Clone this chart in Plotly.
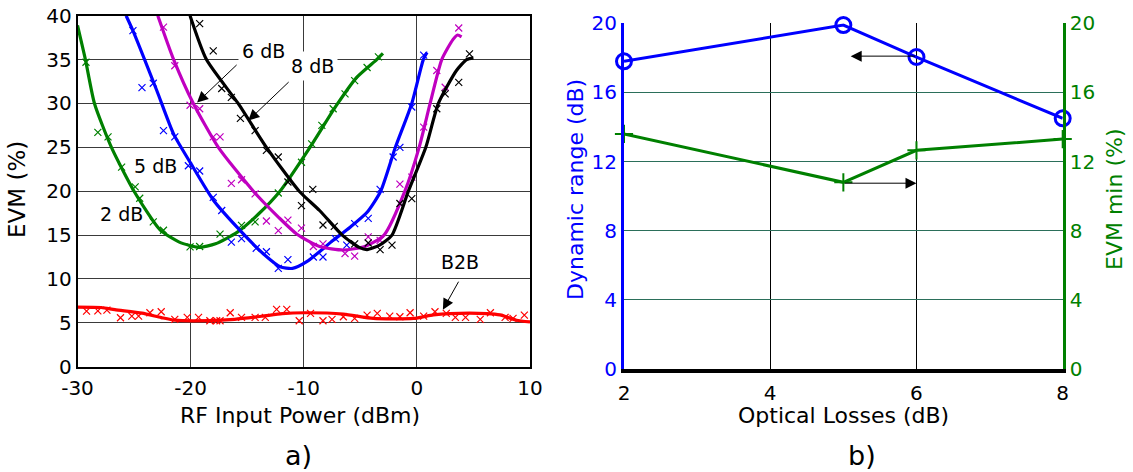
import plotly.graph_objects as go

# ---------------- Panel a) data ----------------
# fitted curves (x: RF input power dBm, y: EVM %)
b2b_fit_x = [-30.2, -27.9, -26.7, -24.3, -22.6, -21.4, -18.4, -16.1, -13.7, -11.9, -9.9, -6.5, -3.85, -0.3, 1.46, 2.9, 6.2, 7.35, 8.8, 10.0]
b2b_fit_y = [6.8, 6.75, 6.5, 6.1, 5.6, 5.3, 5.25, 5.4, 5.75, 6.05, 6.15, 6.0, 5.5, 5.5, 5.9, 6.05, 6.05, 5.9, 5.3, 5.1]
b2b_pts_x = [-29.2, -28.2, -27.4, -26.2, -25.2, -24.6, -23.6, -22.6, -21.4, -20.3, -19.3, -18.3, -17.7, -17.4, -16.5, -15.5, -14.3, -13.4, -12.4, -11.5, -10.4,
             -9.4, -8.3, -7.5, -6.5, -5.5, -4.4, -3.5, -2.4, -1.5, -0.6, 0.6, 1.6, 2.6, 3.4, 4.3, 5.6, 6.5, 7.8, 8.5, 9.5]
b2b_pts_y = [6.33, 6.37, 6.45, 5.58, 5.77, 5.77, 6.15, 6.26, 5.39, 5.62, 5.62, 5.24, 5.24, 5.24, 6.15, 5.62, 5.62, 5.62, 6.53, 6.53, 5.24,
             6.07, 5.24, 5.39, 5.69, 5.5, 5.88, 6.07, 5.77, 5.69, 6.15, 5.77, 6.26, 6.07, 5.62, 5.62, 5.39, 6.15, 5.62, 5.5, 5.88]

db2_fit_x = [-30.0, -29.3, -28.5, -27.0, -25.0, -22.7, -21.0, -19.3, -17.8, -15.9, -14.0, -12.1, -9.45, -7.1, -5.3, -3.55, -3.0]
db2_fit_y = [38.9, 35.0, 30.0, 25.0, 20.0, 15.6, 14.2, 13.6, 14.0, 15.3, 17.4, 20.0, 25.0, 29.8, 33.0, 35.0, 35.7]
db2_pts_x = [-29.25, -28.2, -27.3, -26.1, -24.9, -24.5, -23.3, -22.4, -20.05, -19.2, -17.4, -15.5, -14.3, -12.25, -10.2, -9.3, -8.4, -7.4, -6.35, -5.5, -4.4, -3.4]
db2_pts_y = [34.7, 26.7, 26.2, 22.75, 20.5, 19.2, 16.5, 15.55, 13.65, 13.7, 15.1, 16.1, 16.5, 19.8, 23.3, 25.4, 27.5, 29.4, 31.1, 32.6, 34.1, 35.3]

db5_fit_x = [-25.7, -25.1, -23.0, -21.5, -20.0, -18.0, -15.9, -13.6, -12.1, -11.0, -9.7, -7.4, -5.9, -4.4, -3.2, -1.9, -0.45, 0.57, 0.9]
db5_fit_y = [40.0, 38.3, 31.5, 26.5, 23.2, 19.0, 15.9, 12.9, 11.4, 11.2, 12.0, 14.4, 15.9, 17.6, 20.0, 25.0, 30.0, 35.0, 35.8]
db5_pts_x = [-25.1, -24.3, -23.3, -22.4, -21.4, -20.2, -19.2, -18.0, -17.25, -16.4, -15.5, -14.2, -13.3, -12.25, -11.4, -9.15, -8.3, -7.2, -6.2, -5.5, -4.3, -3.25, -2.1, -1.5, -0.45, 0.6]
db5_pts_y = [38.3, 31.8, 32.3, 26.9, 26.2, 22.9, 22.3, 19.3, 17.8, 14.2, 14.6, 13.5, 13.1, 11.2, 12.2, 12.5, 12.5, 14.6, 13.85, 16.3, 16.9, 20.2, 23.9, 25.0, 29.6, 35.5]

db6_fit_x = [-22.9, -21.5, -19.76, -17.55, -14.45, -12.2, -10.6, -8.6, -6.5, -4.6, -2.9, -1.06, 0.2, 1.17, 2.2, 3.2, 3.6, 3.95]
db6_fit_y = [40.0, 35.0, 30.0, 25.0, 20.0, 17.0, 15.1, 13.7, 13.3, 13.7, 15.0, 20.0, 25.0, 30.0, 35.0, 37.3, 37.8, 37.6]
db6_pts_x = [-22.4, -21.4, -20.05, -19.2, -18.0, -17.4, -16.4, -15.5, -14.3, -13.3, -12.25, -11.4, -10.2, -9.15, -8.3, -6.35, -5.5, -4.3, -3.25, -1.5, -0.45, 0.6, 1.76, 2.5, 3.7]
db6_pts_y = [38.7, 34.3, 29.8, 29.4, 26.2, 26.2, 20.9, 21.3, 19.7, 16.6, 15.5, 16.7, 15.8, 13.7, 14.0, 12.9, 12.6, 14.8, 14.4, 20.8, 21.6, 27.3, 33.75, 31.85, 38.6]

db8_fit_x = [-20.05, -18.6, -15.8, -13.3, -10.4, -8.6, -6.6, -5.1, -4.4, -3.3, -2.2, -0.75, 0.79, 1.9, 3.5, 4.4, 5.0]
db8_fit_y = [40.0, 35.0, 30.0, 25.0, 20.0, 17.8, 15.0, 13.6, 13.35, 13.85, 15.0, 20.0, 25.0, 30.0, 33.75, 35.0, 35.2]
db8_pts_x = [-19.2, -18.0, -17.25, -16.4, -15.6, -14.3, -13.3, -12.25, -11.4, -10.2, -9.2, -8.3, -7.3, -5.5, -4.3, -3.25, -2.2, -1.5, -0.45, 1.76, 2.5, 3.7, 4.65]
db8_pts_y = [39.1, 36.0, 31.7, 30.7, 28.3, 26.9, 24.65, 23.9, 21.05, 18.35, 20.2, 16.15, 16.0, 14.0, 14.1, 13.35, 13.85, 18.6, 19.15, 29.4, 31.1, 32.4, 35.65]

a_xticks = [-30, -20, -10, 0, 10]
a_xticklabels = ["-30", "-20", "-10", "0", "10"]
a_yticks = [0, 5, 10, 15, 20, 25, 30, 35, 40]

# ---------------- Panel b) data ----------------
losses = [2, 5, 6, 8]
dyn_range = [17.8, 19.9, 18.05, 14.5]
evm_min = [13.6, 10.8, 12.65, 13.3]
b_xticks = [2, 4, 6, 8]
b_yticks = [0, 4, 8, 12, 16, 20]

FONT = "DejaVu Sans, Arial, sans-serif"
W, H = 1133, 472

def px_x(p):
    return p / W

def px_y(p):
    return 1 - p / H

fig = go.Figure()

series = [
    (b2b_fit_x, b2b_fit_y, b2b_pts_x, b2b_pts_y, "#ff0000"),
    (db2_fit_x, db2_fit_y, db2_pts_x, db2_pts_y, "#008000"),
    (db5_fit_x, db5_fit_y, db5_pts_x, db5_pts_y, "#0000ff"),
    (db6_fit_x, db6_fit_y, db6_pts_x, db6_pts_y, "#c000c0"),
    (db8_fit_x, db8_fit_y, db8_pts_x, db8_pts_y, "#000000"),
]
for fx, fy, mx, my, col in series:
    fig.add_trace(go.Scatter(x=mx, y=my, mode="markers", xaxis="x", yaxis="y",
                             marker=dict(symbol="x-thin", size=7, line=dict(color=col, width=1.2)),
                             showlegend=False, cliponaxis=True))
    fig.add_trace(go.Scatter(x=fx, y=fy, mode="lines", xaxis="x", yaxis="y",
                             line=dict(color=col, width=3.2, shape="spline", smoothing=0.6),
                             showlegend=False, cliponaxis=True))

fig.add_trace(go.Scatter(x=losses, y=dyn_range, mode="lines+markers", xaxis="x2", yaxis="y2",
                         line=dict(color="#0000ff", width=3),
                         marker=dict(symbol="circle-open", size=15, line=dict(color="#0000ff", width=3)),
                         showlegend=False, cliponaxis=False))
fig.add_trace(go.Scatter(x=losses, y=evm_min, mode="lines+markers", xaxis="x2", yaxis="y3",
                         line=dict(color="#008000", width=3),
                         marker=dict(symbol="cross-thin", size=13, line=dict(color="#008000", width=2)),
                         showlegend=False, cliponaxis=False))

tickfont = dict(family=FONT, size=20, color="black")
grid_a = "#3a3a3a"

fig.update_layout(
    width=W, height=H,
    margin=dict(l=0, r=0, t=0, b=0),
    paper_bgcolor="white", plot_bgcolor="white",
    font=dict(family=FONT, color="black"),
    xaxis=dict(domain=[px_x(77.5), px_x(530)], range=[-30, 10], tickvals=a_xticks, ticktext=a_xticklabels,
               showgrid=True, gridcolor=grid_a, gridwidth=1, zeroline=False,
               showline=True, linecolor="black", linewidth=1.5, mirror=True,
               ticks="", tickfont=tickfont, anchor="y", automargin=False, ticklabelstandoff=3),
    yaxis=dict(domain=[px_y(366.7), px_y(15.7)], range=[0, 40], tickvals=a_yticks,
               showgrid=True, gridcolor=grid_a, gridwidth=1, zeroline=False,
               showline=True, linecolor="black", linewidth=1.5, mirror=True,
               ticks="", tickfont=tickfont, anchor="x", automargin=False),
    xaxis2=dict(domain=[px_x(624), px_x(1062.7)], range=[2, 8], tickvals=b_xticks,
                showgrid=True, gridcolor="black", gridwidth=1, zeroline=False,
                showline=True, linecolor="black", linewidth=4,
                ticks="", tickfont=tickfont, anchor="y2", automargin=False, ticklabelstandoff=3),
    yaxis2=dict(domain=[px_y(369), px_y(23.3)], range=[0, 20], tickvals=b_yticks,
                showgrid=True, gridcolor="#2b6f5a", gridwidth=1.2, zeroline=False,
                showline=True, linecolor="#0000ff", linewidth=3,
                ticks="", tickfont=dict(family=FONT, size=20, color="#0000ff"),
                anchor="x2", automargin=False),
    yaxis3=dict(domain=[px_y(369), px_y(23.3)], range=[0, 20], tickvals=b_yticks,
                overlaying="y2", side="right", anchor="x2",
                showgrid=False, zeroline=False,
                showline=True, linecolor="#008000", linewidth=3,
                ticks="", tickfont=dict(family=FONT, size=20, color="#008000"), automargin=False),
)

ann = []
def label(text, x, y, size=22, color="black", angle=0):
    ann.append(dict(text=text, x=px_x(x), y=px_y(y), xref="paper", yref="paper",
                    showarrow=False, xanchor="center", yanchor="middle",
                    textangle=angle, font=dict(family=FONT, size=size, color=color)))

label("EVM (%)", 17, 190, size=23, angle=-90)
label("RF Input Power (dBm)", 300, 415)
label("a)", 298, 455, size=27)
label("Dynamic range (dB)", 575, 190, color="#0000ff", angle=-90)
label("EVM min (%)", 1114, 200, color="#008000", angle=-90)
label("Optical Losses (dB)", 843, 415)
label("b)", 862, 455, size=27)

def arrow(x, y, ax, ay, xr="x", yr="y"):
    ann.append(dict(text="", x=x, y=y, ax=ax, ay=ay, xref=xr, yref=yr, axref=xr, ayref=yr,
                    showarrow=True, arrowhead=2, arrowsize=2.2, arrowwidth=1, arrowcolor="black",
                    standoff=0, startstandoff=0))

def curve_label(text, x, y, bg=None):
    d = dict(text=text, x=x, y=y, xref="x", yref="y", showarrow=False,
             font=dict(family=FONT, size=19, color="black"), xanchor="center", yanchor="middle")
    if bg:
        d["bgcolor"] = bg
        d["borderpad"] = 3
    ann.append(d)

arrow(-19.43, 30.1, -15.8, 34.55)
arrow(-14.9, 28.05, -11.2, 32.6)
arrow(2.3, 6.5, 3.76, 9.86)
curve_label("6 dB", -13.6, 36.0, bg="white")
curve_label("8 dB", -9.2, 34.3, bg="white")
curve_label("5 dB", -23.1, 22.9)
curve_label("2 dB", -26.1, 17.45)
curve_label("B2B", 3.8, 11.95, bg="white")

arrow(5.1, 18.1, 6.0, 18.1, xr="x2", yr="y2")
arrow(6.0, 10.75, 5.0, 10.75, xr="x2", yr="y2")

fig.update_layout(annotations=ann)
fig.write_html("out.html", config={"displayModeBar": False},
               post_script="document.body.style.margin='0px';document.body.style.overflow='hidden';")
